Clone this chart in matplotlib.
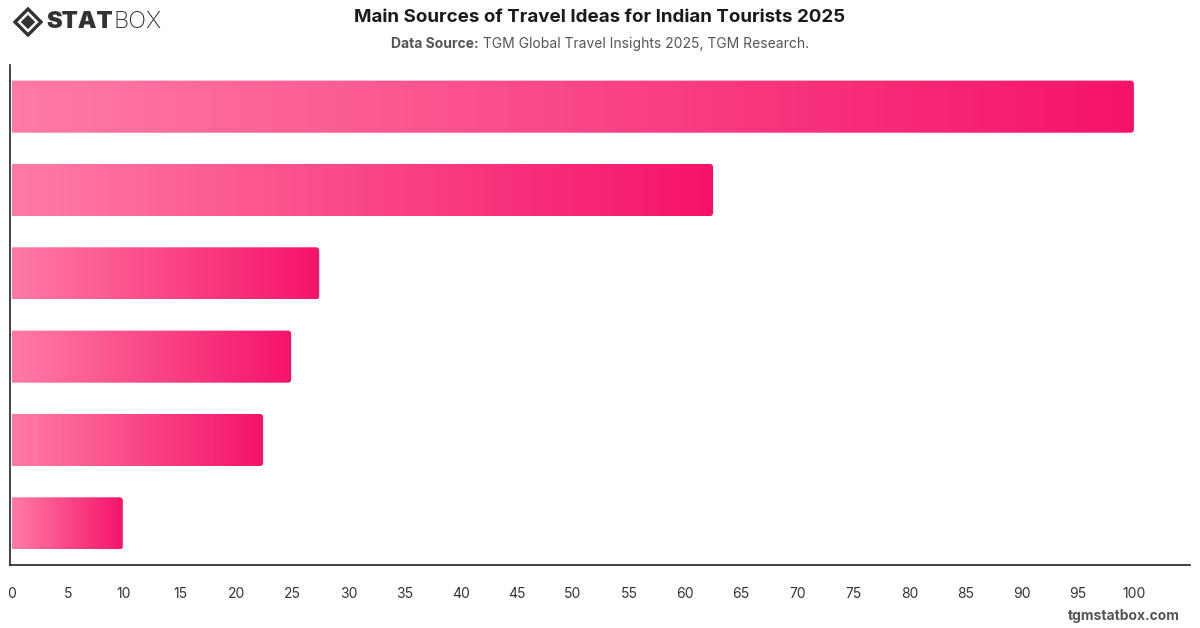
import matplotlib.pyplot as plt
import numpy as np
from matplotlib.colors import LinearSegmentedColormap
from matplotlib.patches import FancyBboxPatch, Polygon

plt.rcParams['font.family'] = ['Inter', 'DejaVu Sans']

# data (top bar first); the chart shows no category names
sources = ["Source 1", "Source 2", "Source 3", "Source 4", "Source 5", "Source 6"]
values = [100, 62.5, 27.4, 24.9, 22.4, 9.9]
ticks = list(range(0, 101, 5))

cmap = LinearSegmentedColormap.from_list("pinks", ["#FF7BA6", "#F5136A"])

fig = plt.figure(figsize=(12, 6.28), dpi=100)
ax = fig.add_axes([10 / 1200, 1 - 565 / 628, 1180 / 1200, 500 / 628])

n = len(values)
xmin, xmax = -0.15, 105.0
bar_h = 0.625
grad = np.linspace(0, 1, 256).reshape(1, -1)

for i, v in enumerate(values):
    y0 = i - bar_h / 2
    y1 = i + bar_h / 2
    im = ax.imshow(grad, cmap=cmap, aspect='auto', extent=(0, v, y1, y0),
                   interpolation='bilinear', zorder=2)
    clip = FancyBboxPatch((-1, y0), v + 1, bar_h,
                          boxstyle="round,pad=0,rounding_size=0.27",
                          mutation_aspect=0.135, transform=ax.transData,
                          facecolor='none', edgecolor='none')
    ax.add_patch(clip)
    im.set_clip_path(clip)

ax.set_xlim(xmin, xmax)
ax.set_ylim(n - 0.5, -0.5)
ax.set_yticks([])
ax.set_xticks(ticks)
ax.tick_params(axis='x', length=0, pad=16, labelsize=10, labelcolor='#333333')
for s in ['top', 'right']:
    ax.spines[s].set_visible(False)
for s in ['left', 'bottom']:
    ax.spines[s].set_color('#222222')
    ax.spines[s].set_linewidth(1.2)

fig.text(0.5, 1 - 17 / 628, "Main Sources of Travel Ideas for Indian Tourists 2025",
         ha='center', va='center', fontsize=13.5, fontweight='bold', color='#1a1a1a')

# subtitle: bold label + regular text, centred together
r = fig.canvas.get_renderer()
sy = 1 - 44 / 628
a = fig.text(0, sy, "Data Source:", ha='left', va='center', fontsize=10,
             fontweight='bold', color='#555555')
b = fig.text(0, sy, " TGM Global Travel Insights 2025, TGM Research.", ha='left',
             va='center', fontsize=10, color='#555555')
wa = a.get_window_extent(r).width
wb = b.get_window_extent(r).width
start = (1200 - wa - wb) / 2
a.set_x(start / 1200)
b.set_x((start + wa) / 1200)

fig.text(1180 / 1200, 1 - 616 / 628, "tgmstatbox.com", ha='right', va='center',
         fontsize=10, fontweight='bold', color='#555555')

# logo
lx, ly = 28 / 1200, 1 - 22 / 628
w, h = 13 / 1200, 13 / 628
outer = Polygon([(lx - w, ly), (lx, ly + h), (lx + w, ly), (lx, ly - h)],
                closed=True, transform=fig.transFigure, facecolor='none',
                edgecolor='#333333', linewidth=2.4)
inner = Polygon([(lx - w * 0.55, ly), (lx, ly + h * 0.55), (lx + w * 0.55, ly), (lx, ly - h * 0.55)],
                closed=True, transform=fig.transFigure, facecolor='#333333', edgecolor='none')
fig.add_artist(outer)
fig.add_artist(inner)
s1 = fig.text(46 / 1200, ly, "STAT", ha='left', va='center', fontsize=17,
              fontweight='black', color='#333333')
ws = s1.get_window_extent(r).width
fig.text((46 + ws + 1) / 1200, ly, "BOX", ha='left', va='center', fontsize=17,
         fontweight='light', color='#333333')

fig.savefig("out.png", dpi=100)
